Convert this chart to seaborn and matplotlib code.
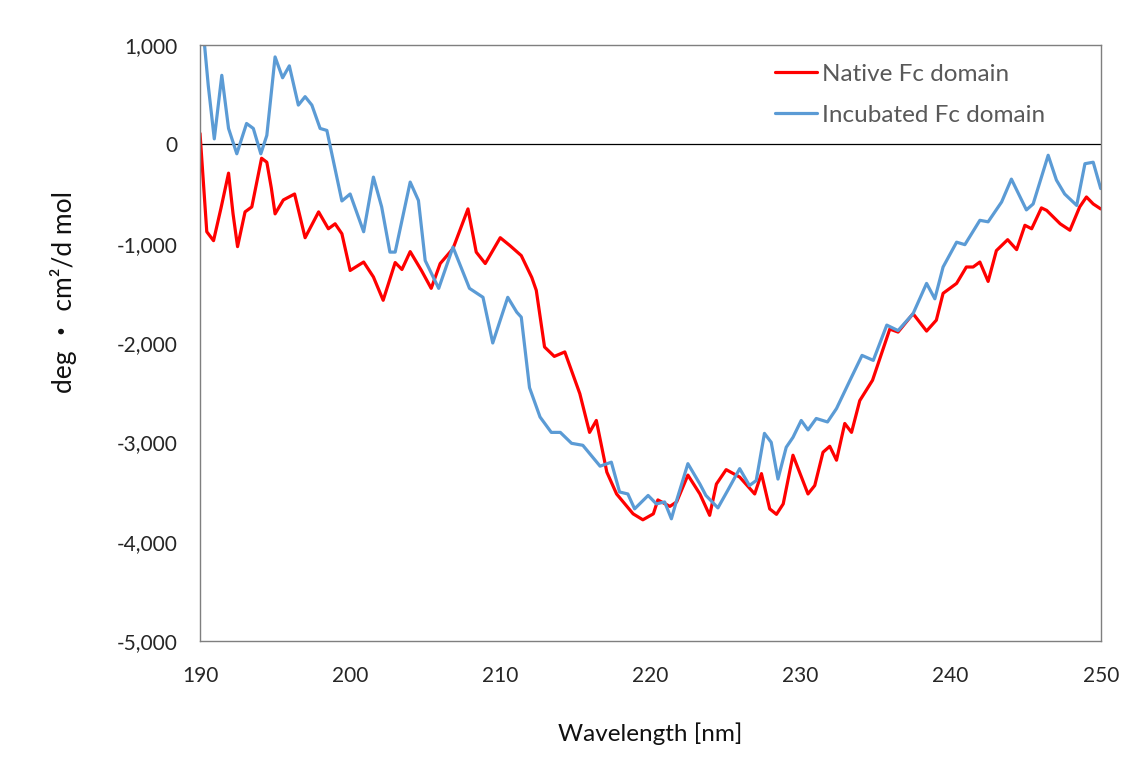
import pandas as pd
import matplotlib
matplotlib.use("Agg")
import matplotlib.pyplot as plt
from matplotlib.ticker import FuncFormatter, MultipleLocator
import seaborn as sns

# Native Fc domain (wavelength nm, mean residue ellipticity)
native_nm = [190.0, 190.45, 190.9, 191.4, 191.9, 192.2, 192.5, 193.0, 193.45, 194.1,
             194.45, 194.75, 195.0, 195.55, 196.3, 197.0, 197.9, 198.55, 199.0, 199.45,
             200.0, 200.9, 201.55, 202.2, 203.0, 203.45, 204.0, 204.75, 205.4, 206.0,
             206.85, 207.85, 208.4, 209.0, 210.0, 210.65, 211.4, 212.1, 212.4, 212.95,
             213.6, 214.3, 215.3, 215.95, 216.4, 217.1, 217.75, 218.85, 219.5, 220.2,
             220.5, 221.3, 221.75, 222.5, 223.3, 223.95, 224.4, 225.05, 225.95, 226.95,
             227.4, 227.95, 228.4, 228.85, 229.5, 230.5, 230.95, 231.5, 231.95, 232.4,
             232.95, 233.4, 233.95, 234.8, 235.95, 236.5, 237.5, 238.4, 239.05, 239.5,
             240.4, 241.05, 241.5, 241.95, 242.5, 243.05, 243.8, 244.4, 244.95, 245.4,
             246.05, 246.4, 247.3, 247.95, 248.6, 249.05, 249.5, 250.0]
native_val = [110, -880, -970, -640, -290, -700, -1030, -680, -630, -140,
              -180, -440, -700, -560, -500, -940, -680, -850, -800, -900,
              -1270, -1185, -1335, -1570, -1190, -1260, -1080, -1270, -1450, -1200,
              -1050, -650, -1085, -1200, -940, -1020, -1120, -1340, -1470, -2040,
              -2135, -2090, -2510, -2900, -2780, -3300, -3520, -3720, -3780, -3720,
              -3580, -3645, -3600, -3330, -3520, -3735, -3420, -3275, -3350, -3520,
              -3315, -3670, -3725, -3620, -3130, -3520, -3435, -3100, -3040, -3180,
              -2810, -2900, -2580, -2375, -1860, -1890, -1705, -1880, -1770, -1500,
              -1400, -1235, -1235, -1185, -1380, -1070, -960, -1060, -815, -850,
              -640, -665, -800, -865, -630, -530, -600, -650]

# Incubated Fc domain
incub_nm = [190.0, 190.3, 190.55, 190.95, 191.45, 191.9, 192.45, 193.1, 193.55, 194.05,
            194.45, 195.0, 195.5, 195.95, 196.55, 197.0, 197.45, 198.0, 198.45, 199.45,
            200.0, 200.9, 201.55, 202.1, 202.65, 203.0, 204.0, 204.55, 205.0, 205.9,
            206.85, 207.95, 208.85, 209.5, 210.5, 211.1, 211.4, 211.95, 212.65, 213.4,
            214.0, 214.75, 215.5, 216.65, 217.4, 217.95, 218.5, 218.95, 219.85, 220.4,
            220.95, 221.4, 221.75, 222.5, 223.3, 223.7, 224.5, 225.15, 225.95, 226.6,
            227.05, 227.6, 228.05, 228.5, 229.05, 229.5, 230.05, 230.5, 231.05, 231.8,
            232.4, 233.3, 234.1, 234.85, 235.75, 236.5, 237.5, 238.4, 238.95, 239.5,
            240.4, 240.95, 241.95, 242.5, 243.4, 244.05, 245.05, 245.5, 246.5, 247.05,
            247.6, 248.4, 248.95, 249.5, 250.0]
incub_val = [1300, 1000, 590, 55, 695, 160, -95, 210, 160, -95,
             90, 880, 670, 790, 395, 480, 395, 160, 140, -570,
             -500, -880, -330, -630, -1085, -1085, -380, -565, -1170, -1450,
             -1035, -1450, -1540, -2000, -1540, -1690, -1740, -2450, -2745, -2900,
             -2900, -3010, -3030, -3240, -3200, -3500, -3520, -3670, -3535, -3620,
             -3600, -3770, -3585, -3215, -3420, -3535, -3660, -3485, -3265, -3435,
             -3385, -2910, -3000, -3370, -3050, -2950, -2780, -2875, -2760, -2795,
             -2660, -2375, -2125, -2175, -1820, -1875, -1705, -1400, -1555, -1235,
             -985, -1010, -765, -780, -580, -350, -660, -600, -110, -360,
             -500, -615, -195, -180, -445]

sns.set_theme(style="white")
plt.rcParams["font.family"] = ["Lato", "Noto Sans CJK JP", "DejaVu Sans"]

df = pd.concat([
    pd.DataFrame({"nm": native_nm, "val": native_val, "series": "Native Fc domain"}),
    pd.DataFrame({"nm": incub_nm, "val": incub_val, "series": "Incubated Fc domain"}),
])

fig = plt.figure(figsize=(11.43, 7.59), dpi=100)
ax = fig.add_axes([0.175, 0.1555, 0.788, 0.7852])

sns.lineplot(data=df, x="nm", y="val", hue="series", sort=False, estimator=None,
             palette={"Native Fc domain": "#FF0000", "Incubated Fc domain": "#5B9BD5"},
             linewidth=2.3, ax=ax)
for ln in ax.get_lines():
    ln.set_solid_joinstyle("round")

ax.axhline(0, color="black", linewidth=0.9, zorder=1)
ax.set_xlim(190, 250)
ax.set_ylim(-5000, 1000)
ax.xaxis.set_major_locator(MultipleLocator(10))
ax.yaxis.set_major_locator(MultipleLocator(1000))
ax.yaxis.set_major_formatter(FuncFormatter(lambda v, p: f"{int(v):,}"))
ax.tick_params(length=0, labelsize=15, colors="#262626")
ax.tick_params(axis="x", pad=18)
ax.tick_params(axis="y", pad=16)
for s in ax.spines.values():
    s.set_color("#7f7f7f")
    s.set_linewidth(1.0)

ax.set_xlabel("Wavelength [nm]", fontsize=17.5, labelpad=26, color="#111111")
ax.set_ylabel("deg ・ cm²/d mol", fontsize=19, color="#111111")
ax.yaxis.set_label_coords(-0.137, 0.586)

leg = ax.legend(loc="upper right", bbox_to_anchor=(0.949, 0.985), frameon=False,
                fontsize=17.5, handlelength=1.75, handletextpad=0.2,
                labelspacing=0.83, borderaxespad=0)
for t in leg.get_texts():
    t.set_color("#595959")

fig.savefig("out.png", dpi=100)
